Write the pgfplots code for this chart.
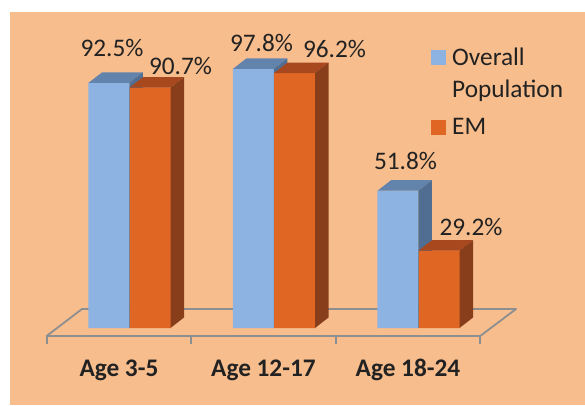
\documentclass[border=0pt]{standalone}
\usepackage{pgfplots}
\pgfplotsset{compat=1.18}
\usepackage{pgfplotstable}
\usepackage{fontspec}
\setmainfont{Carlito}
\definecolor{peach}{HTML}{F8BD8C}
\definecolor{blueFront}{HTML}{8DB3E2}
\definecolor{blueTop}{HTML}{6283AB}
\definecolor{blueSide}{HTML}{506E91}
\definecolor{orangeFront}{HTML}{E06624}
\definecolor{orangeTop}{HTML}{A7481E}
\definecolor{orangeSide}{HTML}{893E1B}
\definecolor{floorgray}{HTML}{8C8E90}
\definecolor{txt}{HTML}{222222}

\pgfplotstableread{
x v lx ly
-0.142 92.5 3 26
0.858 97.8 8 17
1.858 51.8 7.5 21
}\bluedata
\pgfplotstableread{
x v lx ly
0.142 90.7 30.5 13
1.142 96.2 40 16
2.142 29.2 32 15
}\orangedata

\pgfdeclareplotmark{cubeblue}{%
  \pgfmathsetmacro\hh{\myh*2.65}%
  \pgfsetfillcolor{blueTop}%
  \pgfpathmoveto{\pgfpoint{-20.5pt}{0pt}}%
  \pgfpathlineto{\pgfpoint{20.5pt}{0pt}}%
  \pgfpathlineto{\pgfpoint{34pt}{10.5pt}}%
  \pgfpathlineto{\pgfpoint{-7pt}{10.5pt}}%
  \pgfpathclose\pgfusepath{fill}%
  \pgfsetfillcolor{blueSide}%
  \pgfpathmoveto{\pgfpoint{20.5pt}{0pt}}%
  \pgfpathlineto{\pgfpoint{34pt}{10.5pt}}%
  \pgfpathlineto{\pgfpoint{34pt}{10.5pt-\hh pt}}%
  \pgfpathlineto{\pgfpoint{20.5pt}{-\hh pt}}%
  \pgfpathclose\pgfusepath{fill}%
}
\pgfdeclareplotmark{cubeorange}{%
  \pgfmathsetmacro\hh{\myh*2.65}%
  \pgfsetfillcolor{orangeFront}%
  \pgfpathrectanglecorners{\pgfpoint{-20.5pt}{-\hh pt}}{\pgfpoint{20.5pt}{0pt}}%
  \pgfusepath{fill}%
  \pgfsetfillcolor{orangeTop}%
  \pgfpathmoveto{\pgfpoint{-20.5pt}{0pt}}%
  \pgfpathlineto{\pgfpoint{20.5pt}{0pt}}%
  \pgfpathlineto{\pgfpoint{34pt}{10.5pt}}%
  \pgfpathlineto{\pgfpoint{-7pt}{10.5pt}}%
  \pgfpathclose\pgfusepath{fill}%
  \pgfsetfillcolor{orangeSide}%
  \pgfpathmoveto{\pgfpoint{20.5pt}{0pt}}%
  \pgfpathlineto{\pgfpoint{34pt}{10.5pt}}%
  \pgfpathlineto{\pgfpoint{34pt}{10.5pt-\hh pt}}%
  \pgfpathlineto{\pgfpoint{20.5pt}{-\hh pt}}%
  \pgfpathclose\pgfusepath{fill}%
}

\begin{document}
\begin{tikzpicture}
\fill[white] (0pt,0pt) rectangle (585pt,405pt);
\fill[peach] (10pt,0pt) rectangle (585pt,393pt);
\begin{axis}[
  at={(129.5pt,77pt)}, anchor=origin,
  x=144.5pt, y=2.65pt,
  xmin=-0.85, xmax=3.1, ymin=-18.38, ymax=115,
  clip=false,
  axis line style={draw=none},
  hide y axis,
  xtick pos=lower,
  major tick length=0pt,
  xtick={-0.073,0.927,1.927},
  xticklabels={Age 3-5,Age 12-17,Age 18-24},
  xticklabel style={font=\bfseries\fontsize{25.3}{30}\selectfont, anchor=base, inner sep=0pt, text=txt},
  /pgf/number format/assume math mode=true,
  legend style={draw=none, fill=none, inner sep=0pt, outer sep=0pt,
    at={(axis cs:2.0865,107.77)}, anchor=north west,
    column sep=6.5pt, row sep=45.6pt,
    nodes={inner sep=0pt, font=\fontsize{25.3}{32.3}\selectfont, text=txt},
    cells={anchor=base west}},
]
% floor
\draw[floorgray, line width=1.8pt, line join=round]
  (axis cs:-0.5737,-3.02) -- (axis cs:2.4270,-3.02) -- (axis cs:2.6747,7.17) -- (axis cs:-0.3287,7.17) -- cycle;
\draw[floorgray, line width=1.8pt] (axis cs:-0.5737,-3.02) -- ++(0pt,-8pt);
\draw[floorgray, line width=1.8pt] (axis cs:0.4263,-3.02) -- ++(0pt,-8pt);
\draw[floorgray, line width=1.8pt] (axis cs:1.4263,-3.02) -- ++(0pt,-8pt);
\draw[floorgray, line width=1.8pt] (axis cs:2.4270,-3.02) -- ++(0pt,-8pt);

\addplot[ybar, bar width=41pt, bar shift=0pt, fill=blueFront, draw=none,
  point meta=\thisrow{v},
  visualization depends on={\thisrow{lx} \as \labx},
  visualization depends on={\thisrow{ly} \as \laby},
  nodes near coords={\pgfmathprintnumber[fixed,fixed zerofill,precision=1]{\pgfplotspointmeta}\%},
  every node near coord/.append style={anchor=base, inner sep=0pt, xshift=\labx pt, yshift=\laby pt,
     font=\fontsize{25.3}{30}\selectfont, text=txt},
  legend image code/.code={\fill[blueFront] (0pt,0pt) rectangle (14.7pt,14.7pt);}
] table[x=x, y=v] {\bluedata};
\addlegendentry{\begin{tabular}[t]{@{}l@{}}Overall\\Population\end{tabular}}
\addplot[scatter, only marks, mark=cubeblue, point meta=\thisrow{v},
  visualization depends on={\thisrow{v} \as \myh}, forget plot] table[x=x, y=v] {\bluedata};

\addplot[ybar, bar width=41pt, bar shift=0pt, fill=orangeFront, draw=none,
  point meta=\thisrow{v},
  visualization depends on={\thisrow{lx} \as \labx},
  visualization depends on={\thisrow{ly} \as \laby},
  nodes near coords={\pgfmathprintnumber[fixed,fixed zerofill,precision=1]{\pgfplotspointmeta}\%},
  every node near coord/.append style={anchor=base, inner sep=0pt, xshift=\labx pt, yshift=\laby pt,
     font=\fontsize{25.3}{30}\selectfont, text=txt},
  legend image code/.code={\fill[orangeFront] (0pt,0pt) rectangle (14.7pt,14.7pt);}
] table[x=x, y=v] {\orangedata};
\addlegendentry{\begin{tabular}[t]{@{}l@{}}EM\end{tabular}}
\addplot[scatter, only marks, mark=cubeorange, point meta=\thisrow{v},
  visualization depends on={\thisrow{v} \as \myh}, forget plot] table[x=x, y=v] {\orangedata};
\end{axis}
\end{tikzpicture}
\end{document}
